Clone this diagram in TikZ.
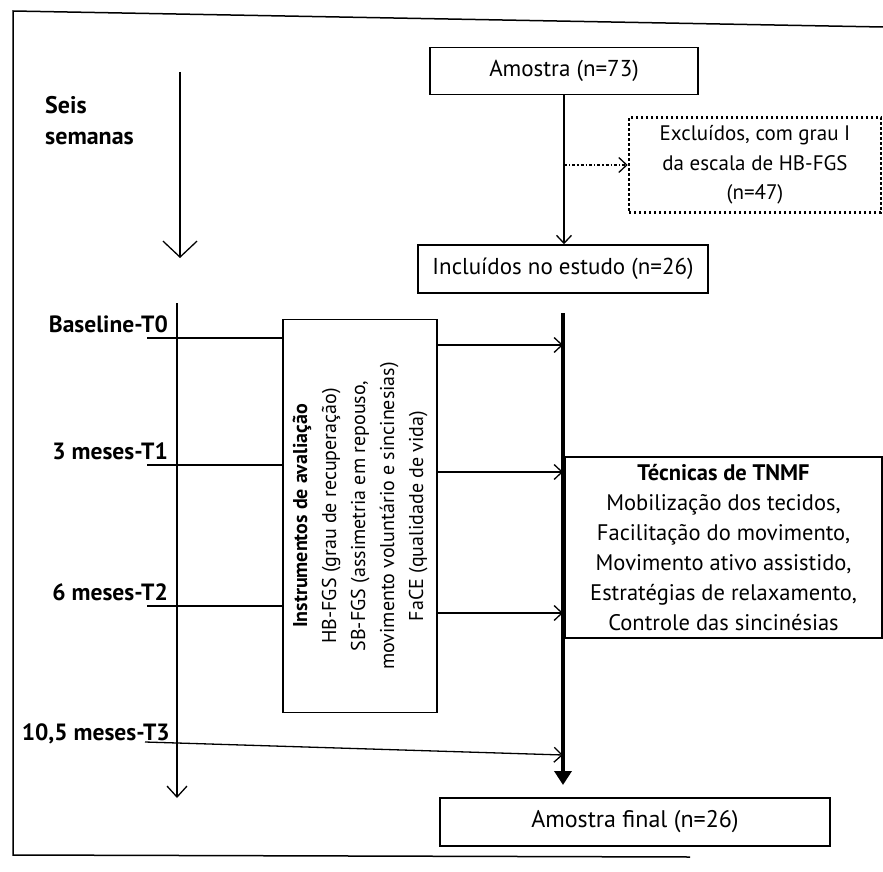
\documentclass[tikz,border=0pt]{standalone}
\usepackage{fontspec}
\setmainfont{PT Sans}
\usetikzlibrary{positioning,arrows.meta}

\begin{document}
\begin{tikzpicture}[x=1pt,y=-1pt,>={Straight Barb[length=8pt,width=15pt]},
  box/.style={draw,line width=1.5pt,inner sep=0pt,align=center,font=\fontsize{20}{29}\selectfont},
  tlbl/.style={font=\fontsize{23.5}{24}\selectfont\bfseries,inner sep=0pt,anchor=base east},
  link/.style={line width=1.3pt}]
\useasboundingbox (0,0) rectangle (883,872);
\draw[line width=1.5pt] (883,27) -- (13,11) -- (13,855) -- (690,857);
\node[font=\fontsize{24}{31}\selectfont\bfseries,align=left,anchor=north west,inner sep=0pt] (seis) at (45,96) {Seis\\semanas};
\coordinate (w0) at (180,72);
\coordinate (w1) at (180,258);
\draw[link,-{Straight Barb[length=16pt,width=34pt]}] (w0) -- (w1);
\node[box,font=\fontsize{23}{29}\selectfont,minimum width=268pt,minimum height=47pt] (amostra) at (564,71) {Amostra (n=73)};
\node[box,dash pattern=on 2.4pt off 2.6pt,line width=2.6pt,font=\fontsize{21}{29.5}\selectfont,minimum width=252pt,minimum height=95pt] (excl) at (755,165) {Excluídos, com grau I\\da escala de HB-FGS\\(n=47)};
\node[box,font=\fontsize{23}{29}\selectfont,minimum width=290pt,minimum height=48pt] (incl) at (563,269) {Incluídos no estudo (n=26)};
\draw[link,->] (amostra.south) -- (amostra.south |- incl.north);
\draw[link,dash dot,->] (amostra.south |- excl.west) -- (excl.west);
\coordinate (t0) at (177,303);
\coordinate (t1) at (177,798);
\draw[link,-{Straight Barb[length=11pt,width=20pt]}] (t0) -- (t1);
\node[box,rotate=90,minimum width=393pt,minimum height=154pt] (instr) at (360,516) {\textbf{Instrumentos de avaliação}\\HB-FGS (grau de recuperação)\\SB-FGS (assimetria em repouso,\\movimento voluntário e sincinesias)\\FaCE (qualidade de vida)};
\node[box,font=\fontsize{22.5}{30}\selectfont,minimum width=317pt,minimum height=181pt] (tec) at (723.5,547.5) {\textbf{Técnicas de TNMF}\\Mobilização dos tecidos,\\Facilitação do movimento,\\Movimento ativo assistido,\\Estratégias de relaxamento,\\Controle das sincinésias};
\coordinate (m0) at (563,313);
\coordinate (m1) at (563,785);
\draw[line width=4pt,-{Triangle[length=14pt,width=17pt]}] (m0) -- (m1);
\node[box,font=\fontsize{24}{29}\selectfont,minimum width=390pt,minimum height=48pt] (fin) at (635,822) {Amostra final (n=26)};
\foreach \n/\t/\y in {b0/Baseline-T0/332,b1/3 meses-T1/459,b2/6 meses-T2/600}{
  \node[tlbl] (\n) at (168,\y) {\t};
  \draw[link] ([xshift=-21pt,yshift=-6pt]\n.base east) -- ([yshift=-6pt]\n.base east -| instr.north);
  \draw[link,->] ([yshift=-13pt]\n.base east -| instr.south) -- ([yshift=-13pt]\n.base east -| m0);
}
\node[tlbl] (b3) at (170,740) {10,5 meses-T3};
\draw[link,->] ([xshift=-25pt,yshift=-2pt]b3.base east) -- ([yshift=-15pt]b3.base east -| m0);
\end{tikzpicture}
\end{document}
